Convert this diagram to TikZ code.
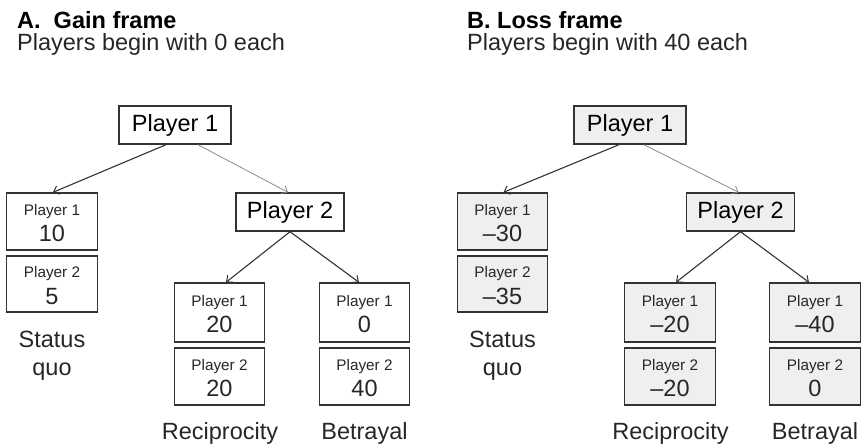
\documentclass[tikz,border=0pt]{standalone}
\usepackage{fontspec}
\setmainfont{Liberation Sans}
\usetikzlibrary{arrows.meta,calc}
\definecolor{lossfill}{HTML}{EFEFEF}
\definecolor{edgecol}{HTML}{333333}
\definecolor{lightedge}{HTML}{8A8A8A}
\newcommand\payoff[6]{%
  \node[resbox, minimum height=#4pt] (#1) at (#2,#3) {};
  \node[smalltxt] (#1-p) at ($(#1.center)+(0,-6.5)$) {#5};
  \node[numtxt] (#1-v) at ($(#1.center)+(0,20)$) {#6};
}
\begin{document}
\begin{tikzpicture}[x=1pt,y=-1pt,
  boxfill/.style={fill=white},
  bigbox/.style={draw=edgecol, line width=1.4pt, boxfill, inner sep=0pt,
    minimum height=38pt, font=\fontsize{23.5}{28}\selectfont},
  resbox/.style={draw=edgecol, line width=1.4pt, boxfill, inner sep=0pt,
    minimum width=90.5pt},
  smalltxt/.style={anchor=base, inner sep=0pt, font=\fontsize{15.3}{18}\selectfont, text=black!85},
  numtxt/.style={anchor=base, inner sep=0pt, font=\fontsize{23.5}{28}\selectfont, text=black!85},
  bigtxt/.style={anchor=base, inner sep=0pt, font=\fontsize{23.5}{28}\selectfont, text=black!85},
  titletxt/.style={anchor=base west, inner sep=0pt, font=\fontsize{23.5}{28}\selectfont\bfseries},
  subtxt/.style={anchor=base west, inner sep=0pt, font=\fontsize{23.5}{28}\selectfont, text=black!85},
  arr/.style={draw=edgecol, line width=1.1pt, -{Straight Barb[length=5pt,width=9pt,line width=1pt]}},
  arrlight/.style={draw=lightedge, line width=0.8pt, -{Straight Barb[length=5pt,width=9pt,line width=0.8pt]}}
]
\useasboundingbox (0,0) rectangle (862,445);

% ---------- Panel A ----------
\node[titletxt] (aTitle) at (17,28.3) {A.\ \ Gain frame};
\node[subtxt] (aSub) at (17,50) {Players begin with 0 each};

\node[bigbox, minimum width=112pt] (aP1) at (175,125) {Player 1};
\node[bigbox, minimum width=108pt] (aP2) at (290,212) {Player 2};

\payoff{aS1}{52}{221.5}{57}{Player 1}{10}
\payoff{aS2}{52}{284}{56}{Player 2}{5}
\payoff{aR1}{219.5}{312.5}{59}{Player 1}{20}
\payoff{aR2}{219.5}{376.5}{57}{Player 2}{20}
\payoff{aB1}{364.5}{312.5}{59}{Player 1}{0}
\payoff{aB2}{364.5}{376.5}{57}{Player 2}{40}

\node[bigtxt] (aSQa) at (52,347) {Status};
\node[bigtxt] (aSQb) at (52,375) {quo};
\node[bigtxt] (aRec) at (220,439) {Reciprocity};
\node[bigtxt] (aBet) at (364.5,439) {Betrayal};

\draw[arr] ([xshift=-9pt]aP1.south) -- ([xshift=1pt]aS1.north);
\draw[arrlight] ([xshift=23pt]aP1.south) -- ([xshift=-2pt]aP2.north);
\draw[arr] (aP2.south) -- ([xshift=6.5pt]aR1.north);
\draw[arr] (aP2.south) -- ([xshift=-5.5pt]aB1.north);

% ---------- Panel B ----------
\begin{scope}[boxfill/.style={fill=lossfill}]
\node[titletxt] (bTitle) at (467,28.3) {B. Loss frame};
\node[subtxt] (bSub) at (467,50) {Players begin with 40 each};

\node[bigbox, minimum width=112pt] (bP1) at (630,125) {Player 1};
\node[bigbox, minimum width=108pt] (bP2) at (740.5,212) {Player 2};

\payoff{bS1}{502.5}{221.5}{57}{Player 1}{–30}
\payoff{bS2}{502.5}{284}{56}{Player 2}{–35}
\payoff{bR1}{670}{312.5}{59}{Player 1}{–20}
\payoff{bR2}{670}{376.5}{57}{Player 2}{–20}
\payoff{bB1}{815}{312.5}{59}{Player 1}{–40}
\payoff{bB2}{815}{376.5}{57}{Player 2}{0}

\node[bigtxt] (bSQa) at (502.5,347) {Status};
\node[bigtxt] (bSQb) at (502.5,375) {quo};
\node[bigtxt] (bRec) at (670.5,439) {Reciprocity};
\node[bigtxt] (bBet) at (815,439) {Betrayal};

\draw[arr] ([xshift=-11pt]bP1.south) -- ([xshift=1pt]bS1.north);
\draw[arrlight] ([xshift=14pt]bP1.south) -- ([xshift=-2pt]bP2.north);
\draw[arr] (bP2.south) -- ([xshift=6pt]bR1.north);
\draw[arr] (bP2.south) -- ([xshift=-6pt]bB1.north);
\end{scope}
\end{tikzpicture}
\end{document}
